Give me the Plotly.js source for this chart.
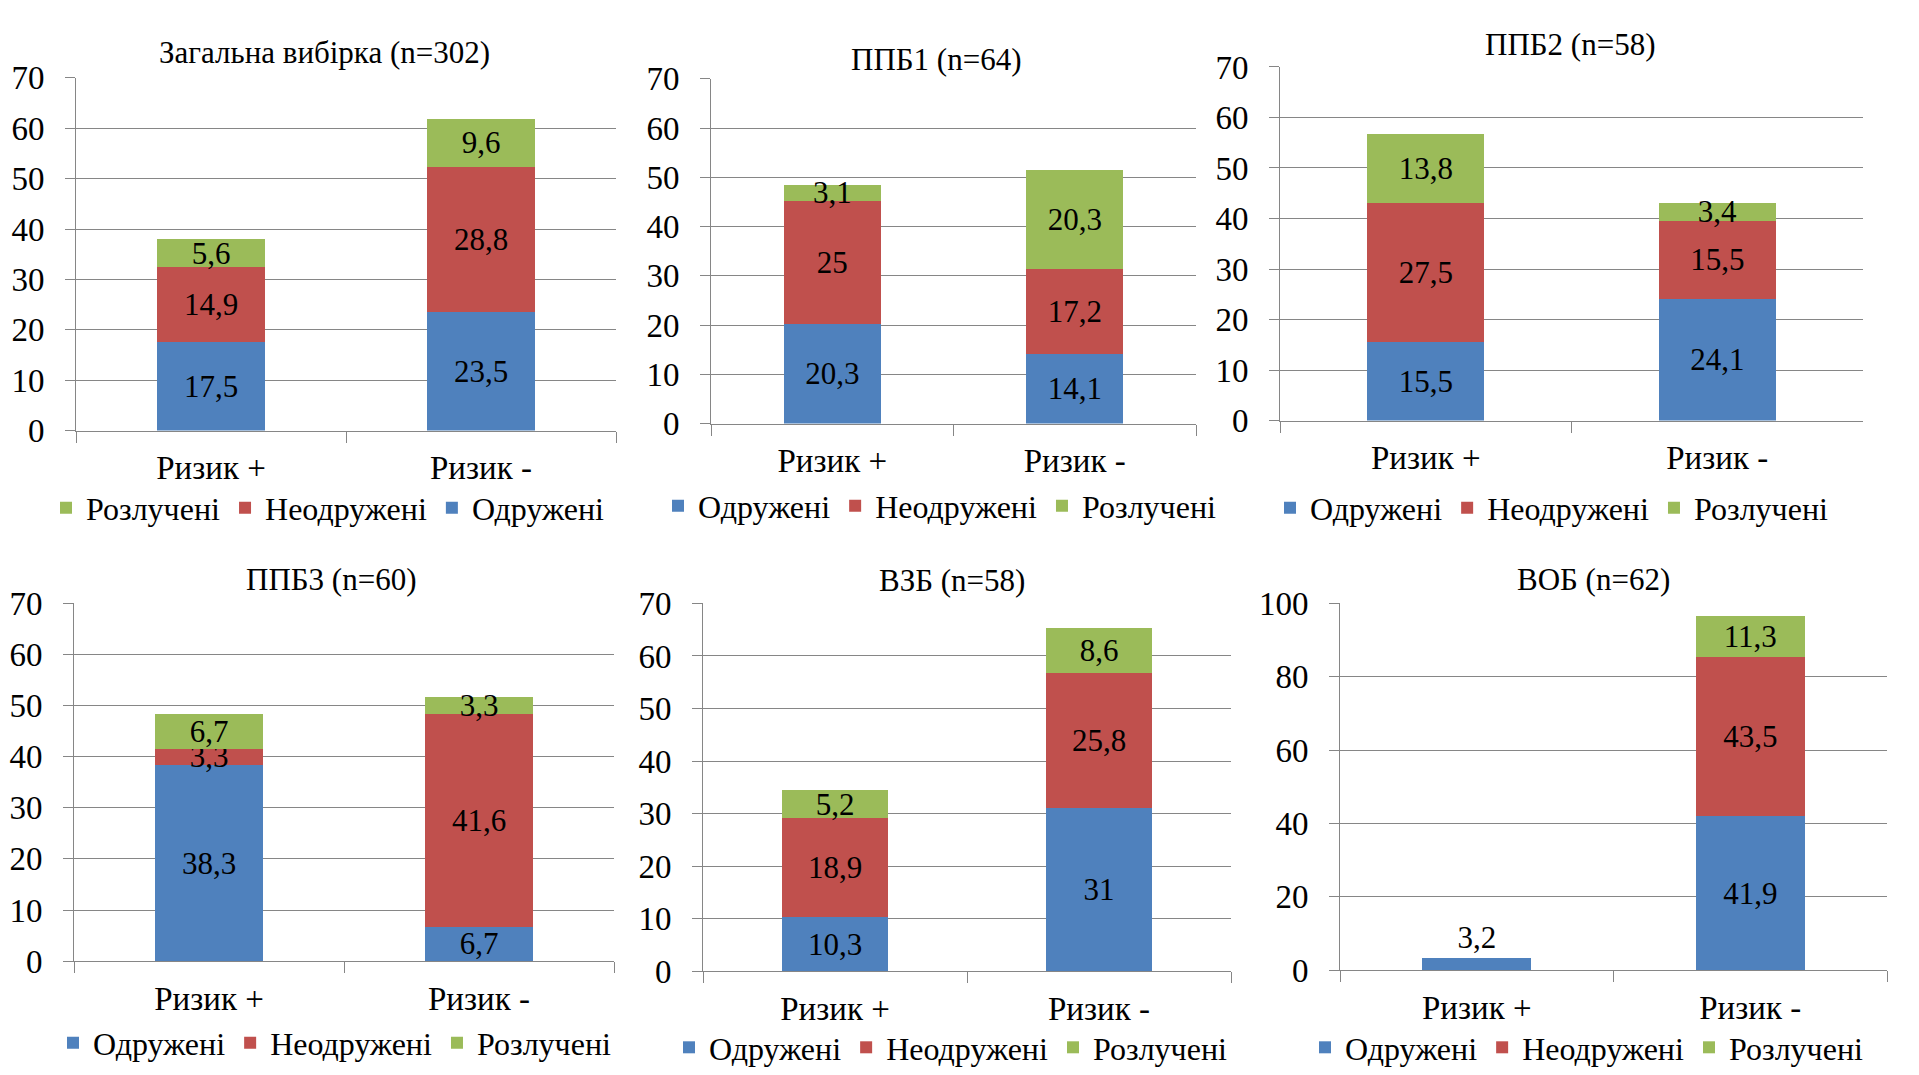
<!DOCTYPE html>
<html>
<head>
<meta charset="utf-8">
<script src="https://cdn.plot.ly/plotly-3.0.1.min.js"></script>
<style>
  html, body { margin: 0; padding: 0; background: #fff; }
  #chart { width: 1919px; height: 1075px; }
</style>
</head>
<body>
<div id="chart"></div>
<script>
// chart values
const categories = ['Ризик +', 'Ризик -'];
const seriesNames = ['Одружені', 'Неодружені', 'Розлучені'];
const panelTitles = ['Загальна вибірка (n=302)', 'ППБ1 (n=64)', 'ППБ2 (n=58)',
                     'ППБ3 (n=60)', 'ВЗБ (n=58)', 'ВОБ (n=62)'];
const married  = [[17.5, 23.5], [20.3, 14.1], [15.5, 24.1], [38.3, 6.7], [10.3, 31], [3.2, 41.9]];
const single   = [[14.9, 28.8], [25, 17.2],   [27.5, 15.5], [3.3, 41.6], [18.9, 25.8], [null, 43.5]];
const divorced = [[5.6, 9.6],   [3.1, 20.3],  [13.8, 3.4],  [6.7, 3.3],  [5.2, 8.6],   [null, 11.3]];
const yMax  = [70, 70, 70, 70, 70, 100];
const yStep = [10, 10, 10, 10, 10, 20];

const W = 1919, H = 1075;
const FONT = 'Liberation Serif';
const colors = ['#4F81BD', '#C0504D', '#9BBB59'];
const gridColor = '#868686';

// plot boxes in pixels: left, right, top, bottom; title and legend centres
const panels = [
  { l: 76,   r: 616,  t: 78,  b: 431, title: [324, 53],   legend: [328, 508],  reversed: true },
  { l: 711,  r: 1196, t: 79,  b: 424, title: [936, 60],   legend: [940, 506] },
  { l: 1280, r: 1863, t: 67,  b: 421, title: [1570, 45],  legend: [1552, 508] },
  { l: 74,   r: 614,  t: 604, b: 962, title: [331, 580],  legend: [335, 1043] },
  { l: 703,  r: 1231, t: 604, b: 972, title: [952, 581],  legend: [951, 1048] },
  { l: 1340, r: 1887, t: 604, b: 971, title: [1593, 580], legend: [1587, 1048] }
];

const fmt = v => (v === null ? '' : String(v).replace('.', ','));

const traces = [];
const layout = {
  width: W, height: H,
  margin: { l: 0, r: 0, t: 0, b: 0 },
  paper_bgcolor: '#fff', plot_bgcolor: '#fff',
  barmode: 'stack',
  bargap: 0.6,
  showlegend: true,
  font: { family: FONT, size: 32, color: '#000' },
  annotations: []
};

panels.forEach((p, i) => {
  const n = i === 0 ? '' : String(i + 1);
  const stacks = [married[i], single[i], divorced[i]];

  stacks.forEach((vals, s) => {
    // a segment alone in its column gets its label above the bar
    const pos = vals.map((v, k) => stacks.filter(st => st[k] !== null).length === 1 ? 'outside' : 'inside');
    traces.push({
      type: 'bar',
      x: categories,
      y: vals,
      name: seriesNames[s],
      xaxis: 'x' + n,
      yaxis: 'y' + n,
      legend: 'legend' + n,
      marker: { color: colors[s], line: { width: 0 } },
      text: vals.map(fmt),
      textposition: pos,
      insidetextanchor: 'middle',
      constraintext: 'none',
      textangle: 0,
      textfont: { family: FONT, size: 31, color: '#000' },
      cliponaxis: false,
      hoverinfo: 'skip'
    });
  });

  layout['xaxis' + n] = {
    domain: [p.l / W, p.r / W],
    anchor: 'y' + n,
    type: 'category',
    showgrid: false,
    showline: true, linecolor: gridColor, linewidth: 1,
    ticks: 'outside', tickson: 'boundaries', ticklen: 11, tickcolor: gridColor,
    ticklabelstandoff: 8,
    tickfont: { family: FONT, size: 33, color: '#000' },
    fixedrange: true
  };
  layout['yaxis' + n] = {
    domain: [1 - p.b / H, 1 - p.t / H],
    anchor: 'x' + n,
    range: [0, yMax[i]],
    dtick: yStep[i],
    showgrid: true, gridcolor: gridColor, gridwidth: 1,
    zeroline: false,
    showline: true, linecolor: gridColor, linewidth: 1,
    ticks: 'outside', ticklen: 10, tickcolor: gridColor,
    ticklabelstandoff: 14,
    tickfont: { family: FONT, size: 33, color: '#000' },
    fixedrange: true
  };
  layout['legend' + n] = {
    orientation: 'h',
    x: p.legend[0] / W, y: 1 - p.legend[1] / H,
    xanchor: 'center', yanchor: 'middle',
    traceorder: p.reversed ? 'reversed' : 'normal',
    bgcolor: 'rgba(0,0,0,0)',
    font: { family: FONT, size: 32, color: '#000' },
    itemclick: false, itemdoubleclick: false
  };
  layout.annotations.push({
    text: panelTitles[i],
    xref: 'paper', yref: 'paper',
    x: p.title[0] / W, y: 1 - p.title[1] / H,
    xanchor: 'center', yanchor: 'middle',
    showarrow: false,
    font: { family: FONT, size: 31, color: '#000' }
  });
});

Plotly.newPlot('chart', traces, layout, { displayModeBar: false, staticPlot: true });
</script>
</body>
</html>
